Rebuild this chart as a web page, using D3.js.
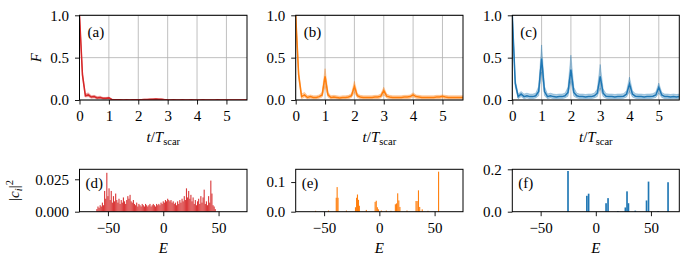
<!DOCTYPE html>
<html><head><meta charset="utf-8">
<script src="https://cdn.jsdelivr.net/npm/d3@7"></script>
<style>
body{margin:0;background:#fff}
svg{display:block}
</style>
</head><body>
<svg id="chart" width="690" height="267"></svg>
<script>
// ---------- data ----------
const tValues = [0,0.1,0.2,0.3,0.4,0.5,0.6,0.7,0.8,0.9,
 1.0,1.1,1.2,1.3,1.4,1.5,1.6,1.7,1.8,1.9,
 2.0,2.1,2.2,2.3,2.4,2.5,2.6,2.7,2.8,2.9,
 3.0,3.1,3.2,3.3,3.4,3.5,3.6,3.7,3.8,3.9,
 4.0,4.1,4.2,4.3,4.4,4.5,4.6,4.7,4.8,4.9,
 5.0,5.1,5.2,5.3,5.4,5.5,5.6,5.7];

const meanA = [1.0,0.30,0.05,0.06,0.035,0.04,0.025,0.03,0.02,0.02,
 0.025,0.006,0.003,0.002,0.002,0.001,0.002,0.001,0.002,0.003,
 0.003,0.004,0.005,0.006,0.008,0.010,0.012,0.010,0.008,0.004,
 0.002,0.001,0.002,0.001,0.001,0.002,0.001,0.001,0.002,0.001,
 0.001,0.001,0.002,0.001,0.001,0.001,0.001,0.002,0.001,0.001,
 0.001,0.001,0.001,0.001,0.001,0.001,0.001,0.001];
const upperA = [1.0,0.33,0.07,0.085,0.05,0.055,0.04,0.045,0.03,0.03,
 0.035,0.01,0.005,0.004,0.004,0.003,0.004,0.003,0.004,0.005,
 0.005,0.007,0.009,0.010,0.013,0.015,0.017,0.015,0.012,0.007,
 0.004,0.003,0.004,0.003,0.003,0.004,0.003,0.003,0.004,0.003,
 0.003,0.003,0.004,0.003,0.003,0.003,0.003,0.004,0.003,0.003,
 0.003,0.003,0.003,0.003,0.003,0.003,0.003,0.003];
const lowerA = [1.0,0.27,0.035,0.04,0.02,0.025,0.012,0.018,0.01,0.01,
 0.015,0.003,0.001,0,0,0,0,0,0,0.001,
 0.001,0.001,0.002,0.002,0.004,0.005,0.007,0.005,0.004,0.001,
 0,0,0,0,0,0,0,0,0,0,
 0,0,0,0,0,0,0,0,0,0,
 0,0,0,0,0,0,0,0];

const meanB = [1.0,0.30,0.04,0.06,0.03,0.04,0.03,0.03,0.04,0.06,
 0.28,0.06,0.03,0.035,0.03,0.025,0.03,0.03,0.035,0.05,
 0.16,0.05,0.035,0.03,0.03,0.03,0.03,0.035,0.035,0.045,
 0.11,0.045,0.035,0.03,0.03,0.03,0.03,0.035,0.035,0.04,
 0.06,0.04,0.035,0.03,0.03,0.03,0.03,0.03,0.035,0.035,
 0.045,0.035,0.03,0.03,0.03,0.03,0.03,0.03];
const upperB = [1.0,0.34,0.07,0.09,0.05,0.06,0.05,0.05,0.06,0.09,
 0.37,0.09,0.05,0.055,0.05,0.045,0.05,0.05,0.055,0.075,
 0.22,0.075,0.055,0.05,0.05,0.05,0.05,0.055,0.055,0.07,
 0.15,0.07,0.055,0.05,0.05,0.05,0.05,0.055,0.055,0.06,
 0.085,0.06,0.055,0.05,0.05,0.05,0.05,0.05,0.055,0.055,
 0.06,0.055,0.05,0.05,0.05,0.05,0.05,0.05];
const lowerB = [1.0,0.26,0.015,0.035,0.012,0.02,0.012,0.012,0.02,0.035,
 0.16,0.035,0.012,0.015,0.012,0.01,0.012,0.012,0.015,0.03,
 0.09,0.03,0.015,0.012,0.012,0.012,0.012,0.015,0.015,0.025,
 0.06,0.025,0.015,0.012,0.012,0.012,0.012,0.015,0.015,0.02,
 0.035,0.02,0.015,0.012,0.012,0.012,0.012,0.012,0.015,0.015,
 0.025,0.015,0.012,0.012,0.012,0.012,0.012,0.012];

const meanC = [1.0,0.20,0.04,0.07,0.04,0.05,0.04,0.04,0.05,0.10,
 0.49,0.10,0.04,0.05,0.04,0.035,0.04,0.04,0.05,0.09,
 0.36,0.09,0.05,0.04,0.04,0.035,0.04,0.04,0.05,0.08,
 0.28,0.08,0.045,0.04,0.04,0.035,0.04,0.04,0.045,0.07,
 0.19,0.07,0.045,0.04,0.04,0.035,0.04,0.04,0.045,0.06,
 0.15,0.06,0.04,0.04,0.035,0.04,0.035,0.04];
const upperC = [1.0,0.24,0.07,0.10,0.07,0.08,0.07,0.07,0.08,0.16,
 0.65,0.16,0.07,0.08,0.07,0.065,0.07,0.07,0.08,0.15,
 0.53,0.15,0.08,0.07,0.07,0.065,0.07,0.07,0.08,0.13,
 0.42,0.13,0.075,0.07,0.07,0.065,0.07,0.07,0.075,0.11,
 0.27,0.11,0.075,0.07,0.07,0.065,0.07,0.07,0.075,0.095,
 0.20,0.09,0.07,0.07,0.065,0.07,0.065,0.07];
const lowerC = [1.0,0.16,0.015,0.04,0.015,0.025,0.015,0.015,0.025,0.05,
 0.33,0.05,0.015,0.025,0.015,0.012,0.015,0.015,0.025,0.045,
 0.22,0.045,0.025,0.015,0.015,0.012,0.015,0.015,0.025,0.04,
 0.14,0.04,0.02,0.015,0.015,0.012,0.015,0.015,0.02,0.035,
 0.10,0.035,0.02,0.015,0.015,0.012,0.015,0.015,0.02,0.03,
 0.08,0.03,0.015,0.015,0.012,0.015,0.012,0.015];

// (d) eigen-energies and weights
const energyD = [-60,-59,-58,-57,-56,-55,-54,-53,-52,-51,
 -50,-49,-48,-47,-46,-45,-44,-43,-42,-41,
 -40,-39,-38,-37,-36,-35,-34,-33,-32,-31,
 -30,-29,-28,-27,-26,-25,-24,-23,-22,-21,
 -20,-19,-18,-17,-16,-15,-14,-13,-12,-11,
 -10,-9,-8,-7,-6,-5,-4,-3,-2,-1,
 0,1,2,3,4,5,6,7,8,9,
 10,11,12,13,14,15,16,17,18,19,
 20,21,22,23,24,25,26,27,28,29,
 30,31,32,33,34,35,36,37,38,39,
 40,41,42,43,44,45,46,47];
const weightD = [0.002,0.004,0.003,0.005,0.004,0.007,0.005,0.016,0.010,0.030,
 0.012,0.018,0.009,0.016,0.007,0.012,0.008,0.014,0.009,0.007,
 0.010,0.006,0.009,0.007,0.011,0.008,0.006,0.009,0.012,0.010,
 0.013,0.008,0.007,0.009,0.006,0.005,0.007,0.004,0.006,0.005,
 0.004,0.006,0.005,0.004,0.006,0.005,0.004,0.005,0.006,0.004,
 0.005,0.006,0.005,0.004,0.006,0.005,0.006,0.005,0.007,0.006,
 0.008,0.007,0.009,0.008,0.010,0.009,0.008,0.009,0.007,0.008,
 0.006,0.007,0.005,0.008,0.006,0.009,0.007,0.010,0.008,0.012,
 0.009,0.018,0.011,0.016,0.010,0.013,0.008,0.011,0.006,0.009,
 0.005,0.008,0.010,0.006,0.012,0.007,0.011,0.017,0.006,0.008,
 0.005,0.012,0.007,0.024,0.014,0.005,0.004,0.002];

const energyE = [-57.7,-46,-39,-38.2,-37.4,-29.8,-21.6,-20.6,-19.8,-18.9,-18.1,-11.8,
 -3.8,-2.8,-1.8,-0.8,1.8,6.3,10.5,14.5,15.5,16.6,17.6,18.6,25,
 33.2,34.2,35.4,36.5,38.8,44,53.6];
const weightE = [0.003,0.004,0.047,0.083,0.047,0.004,0.015,0.047,0.058,0.040,0.020,0.006,
 0.033,0.037,0.015,0.008,0.004,0.004,0.003,0.025,0.028,0.062,0.038,0.016,0.004,
 0.036,0.036,0.072,0.016,0.008,0.003,0.135];

const energyF = [-25.2,-8.1,-6.5,9.3,11.1,20,26.8,28.3,29.6,35.8,46,47.8,56.5,65.5];
const weightF = [0.192,0.075,0.085,0.040,0.064,0.003,0.020,0.096,0.040,0.005,0.053,0.142,0.003,0.139];

const tTicks = [0,1,2,3,4,5];
const fTicks = [0,0.5,1];
const eTicks = [-50,0,50];
const topLabels = ["(a)","(b)","(c)"];
const bottomLabels = ["(d)","(e)","(f)"];
const colors = ["#d62728","#ff7f0e","#1f77b4"];

// ---------- layout ----------
const FONT = "Liberation Serif";
const svg = d3.select("#chart");
const cols = [[79.5,247],[295.7,463],[512.3,679.3]];
const topY = [15.3,100];
const botY = [169.3,211.7];
const FS = 15;

const topSeries = [
  {mean:meanA, up:upperA, lo:lowerA},
  {mean:meanB, up:upperB, lo:lowerB},
  {mean:meanC, up:upperC, lo:lowerC}
];
const botSeries = [
  {e:energyD, w:weightD, ymax:0.0327, ticks:[0,0.025], fmt:".3f", bw:1.0, op:0.92},
  {e:energyE, w:weightE, ymax:0.143, ticks:[0,0.1], fmt:".1f", bw:1.0, op:1},
  {e:energyF, w:weightF, ymax:0.2, ticks:[0,0.2], fmt:".1f", bw:1.5, op:1}
];

function styleAxis(g){
  g.attr("font-family",FONT).attr("font-size",FS);
  g.select(".domain").remove();
  g.selectAll(".tick line").attr("stroke","#000").attr("stroke-width",0.9);
  g.selectAll(".tick text").attr("fill","#000").attr("font-family",FONT).attr("font-size",FS);
}
function txt(sel){ return sel.attr("font-family",FONT).attr("font-size",FS).attr("fill","#000"); }

cols.forEach((c,i)=>{
  // ----- top panel -----
  const x = d3.scaleLinear().domain([0,5.7]).range(c);
  const y = d3.scaleLinear().domain([0,1]).range([topY[1],topY[0]]);
  const g = svg.append("g");
  const clipId = "clipT"+i;
  svg.append("clipPath").attr("id",clipId).append("rect")
    .attr("x",c[0]).attr("y",topY[0]-1).attr("width",c[1]-c[0]).attr("height",topY[1]-topY[0]+1);
  g.selectAll(".vg").data(tTicks).enter().append("line")
    .attr("x1",d=>x(d)).attr("x2",d=>x(d)).attr("y1",topY[0]).attr("y2",topY[1])
    .attr("stroke","#b0b0b0").attr("stroke-width",0.8);
  g.selectAll(".hg").data(fTicks).enter().append("line")
    .attr("y1",d=>y(d)).attr("y2",d=>y(d)).attr("x1",c[0]).attr("x2",c[1])
    .attr("stroke","#b0b0b0").attr("stroke-width",0.8);
  const s = topSeries[i];
  const pts = tValues.map((t,k)=>({t, m:s.mean[k], u:s.up[k], l:s.lo[k]}));
  const area = d3.area().x(d=>x(d.t)).y0(d=>y(d.l)).y1(d=>y(d.u));
  const line = d3.line().x(d=>x(d.t)).y(d=>y(d.m));
  const pg = g.append("g").attr("clip-path",`url(#${clipId})`);
  pg.append("path").datum(pts).attr("d",area)
    .attr("fill",colors[i]).attr("fill-opacity",0.35)
    .attr("stroke",colors[i]).attr("stroke-opacity",0.3).attr("stroke-width",1);
  pg.append("path").datum(pts).attr("d",line)
    .attr("fill","none").attr("stroke",colors[i]).attr("stroke-width",1.5);
  g.append("rect").attr("x",c[0]).attr("y",topY[0]).attr("width",c[1]-c[0]).attr("height",topY[1]-topY[0])
    .attr("fill","none").attr("stroke","#000").attr("stroke-width",1);
  g.append("g").attr("transform",`translate(0,${topY[1]})`)
    .call(d3.axisBottom(x).tickValues(tTicks).tickSize(4.5).tickPadding(6).tickFormat(d3.format("d")))
    .call(styleAxis);
  g.append("g").attr("transform",`translate(${c[0]},0)`)
    .call(d3.axisLeft(y).tickValues(fTicks).tickSize(4.5).tickPadding(6).tickFormat(d3.format(".1f")))
    .call(styleAxis);
  txt(g.append("text")).attr("x",c[0]+8).attr("y",36.5).text(topLabels[i]);
  const xl = txt(g.append("text")).attr("x",(c[0]+c[1])/2).attr("y",142).attr("text-anchor","middle");
  xl.append("tspan").attr("font-style","italic").text("t");
  xl.append("tspan").text("/");
  xl.append("tspan").attr("font-style","italic").text("T");
  xl.append("tspan").attr("dy",3).attr("font-size",10.5).text("scar");

  // ----- bottom panel -----
  const b = botSeries[i];
  const xb = d3.scaleLinear().domain([-75.7,75.7]).range(c);
  const yb = d3.scaleLinear().domain([0,b.ymax]).range([botY[1],botY[0]]);
  const gb = svg.append("g");
  const bars = b.e.map((e,k)=>({e, w:b.w[k]}));
  const bwPx = xb(b.bw)-xb(0);
  gb.selectAll("rect.bar").data(bars).enter().append("rect")
    .attr("x",d=>xb(d.e)-bwPx/2).attr("width",bwPx)
    .attr("y",d=>yb(d.w)).attr("height",d=>yb(0)-yb(d.w))
    .attr("fill",colors[i]).attr("fill-opacity",b.op);
  gb.append("rect").attr("x",c[0]).attr("y",botY[0]).attr("width",c[1]-c[0]).attr("height",botY[1]-botY[0])
    .attr("fill","none").attr("stroke","#000").attr("stroke-width",1);
  gb.append("g").attr("transform",`translate(0,${botY[1]})`)
    .call(d3.axisBottom(xb).tickValues(eTicks).tickSize(4.5).tickPadding(6).tickFormat(d3.format("d")))
    .call(styleAxis);
  gb.append("g").attr("transform",`translate(${c[0]},0)`)
    .call(d3.axisLeft(yb).tickValues(b.ticks).tickSize(4.5).tickPadding(6).tickFormat(d3.format(b.fmt)))
    .call(styleAxis);
  txt(gb.append("text")).attr("x",c[0]+6).attr("y",188).text(bottomLabels[i]);
  txt(gb.append("text")).attr("x",(c[0]+c[1])/2).attr("y",253).attr("text-anchor","middle")
    .attr("font-style","italic").text("E");
});

txt(svg.append("text")).attr("transform","translate(41,57.7) rotate(-90)")
  .attr("text-anchor","middle").attr("font-style","italic").text("F");
const yl = txt(svg.append("text")).attr("transform","translate(19,190.5) rotate(-90)")
  .attr("text-anchor","middle");
yl.append("tspan").text("|");
yl.append("tspan").attr("font-style","italic").text("c");
yl.append("tspan").attr("dy",3).attr("font-size",10.5).attr("font-style","italic").text("i");
yl.append("tspan").attr("dy",-3).text("|");
yl.append("tspan").attr("dy",-6).attr("font-size",10.5).text("2");
</script>
</body></html>
